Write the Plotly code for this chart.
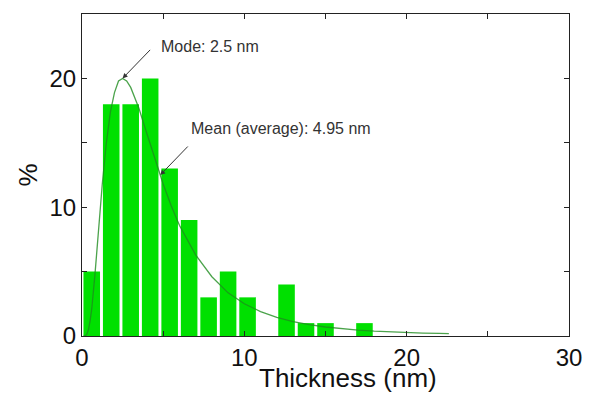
import plotly.graph_objects as go

# Histogram bins (centres, nm) and percentages
bin_centers = [0.6, 1.8, 3.0, 4.2, 5.4, 6.6, 7.8, 9.0, 10.2, 11.4, 12.6, 13.8, 15.0, 16.2, 17.4]
percent = [5, 18, 18, 20, 13, 9, 3, 5, 3, 0, 4, 1, 1, 0, 1]

# Fitted distribution curve
fit_x = [0.1, 0.2, 0.3, 0.4, 0.5, 0.6, 0.8, 1.0, 1.25, 1.5, 1.75, 2.0, 2.25, 2.5, 2.75,
         3.0, 3.5, 4.0, 4.5, 5.0, 5.5, 6.0, 7.0, 8.0, 9.0, 10.0, 11.0, 12.0, 13.0, 14.0,
         15.0, 16.0, 17.0, 18.0, 19.0, 20.0, 21.0, 22.0, 22.6]
fit_y = [0.0, 0.02, 0.14, 0.5, 1.2, 2.1, 4.8, 8.0, 11.8, 15.0, 17.4, 18.9, 19.8, 20.0, 19.8,
         19.3, 17.7, 15.7, 13.7, 11.8, 10.1, 8.6, 6.3, 4.6, 3.35, 2.5, 1.9, 1.45, 1.12, 0.88,
         0.7, 0.56, 0.46, 0.38, 0.32, 0.27, 0.23, 0.2, 0.18]

x_ticks = [0, 5, 10, 15, 20, 25, 30]
x_tick_text = ["0", "", "10", "", "20", "", "30"]
y_ticks = [0, 5, 10, 15, 20, 25]
y_tick_text = ["0", "", "10", "", "20", ""]

# Annotated points (arrow tips) and label anchors
mode_tip = (2.5, 20.0)
mode_label = (4.72, 22.5)
mean_tip = (4.82, 12.5)
mean_label = (6.6, 16.1)

FONT = "Liberation Sans, Arial, sans-serif"

fig = go.Figure()
fig.add_trace(go.Bar(x=bin_centers, y=percent, width=1.02,
                     marker=dict(color="#00e000", line=dict(width=0)),
                     showlegend=False))
fig.add_trace(go.Scatter(x=fit_x, y=fit_y, mode="lines",
                         line=dict(color="rgba(30,140,30,0.8)", width=1.3),
                         showlegend=False))

# arrows (no text)
for tip in (mode_tip, mean_tip):
    fig.add_annotation(x=tip[0], y=tip[1], ax=29, ay=-30, text="", showarrow=True,
                       arrowhead=2, arrowsize=1, arrowwidth=1, arrowcolor="#333", standoff=0)

fig.add_annotation(x=mode_label[0], y=mode_label[1], text="Mode: 2.5 nm", showarrow=False,
                   xanchor="left", yanchor="middle",
                   font=dict(family=FONT, size=16, color="#333"))
fig.add_annotation(x=mean_label[0], y=mean_label[1], text="Mean (average): 4.95 nm",
                   showarrow=False, xanchor="left", yanchor="middle",
                   font=dict(family=FONT, size=16, color="#333"))

fig.add_annotation(x=0.546, y=-0.181, xref="paper", yref="paper",
                   text="Thickness (nm)", showarrow=False, xanchor="center", yanchor="bottom",
                   borderpad=0,
                   font=dict(family=FONT, size=26, color="#111"))

axis_common = dict(showline=True, linecolor="#222", linewidth=1, mirror="ticks",
                   ticks="inside", ticklen=5, tickwidth=1, tickcolor="#222",
                   showgrid=False, zeroline=False,
                   tickfont=dict(family=FONT, size=24, color="#111"))

fig.update_xaxes(range=[0, 30], tickmode="array", tickvals=x_ticks, ticktext=x_tick_text,
                 ticklabelstandoff=0, **axis_common)
fig.update_yaxes(range=[0, 25], tickmode="array", tickvals=y_ticks, ticktext=y_tick_text,
                 title=dict(text="%", font=dict(family=FONT, size=26, color="#111"), standoff=4),
                 **axis_common)

fig.update_layout(width=594, height=394, margin=dict(l=82, r=16, t=14, b=58),
                  plot_bgcolor="white", paper_bgcolor="white", bargap=0.15)

fig.write_html("out.html")
